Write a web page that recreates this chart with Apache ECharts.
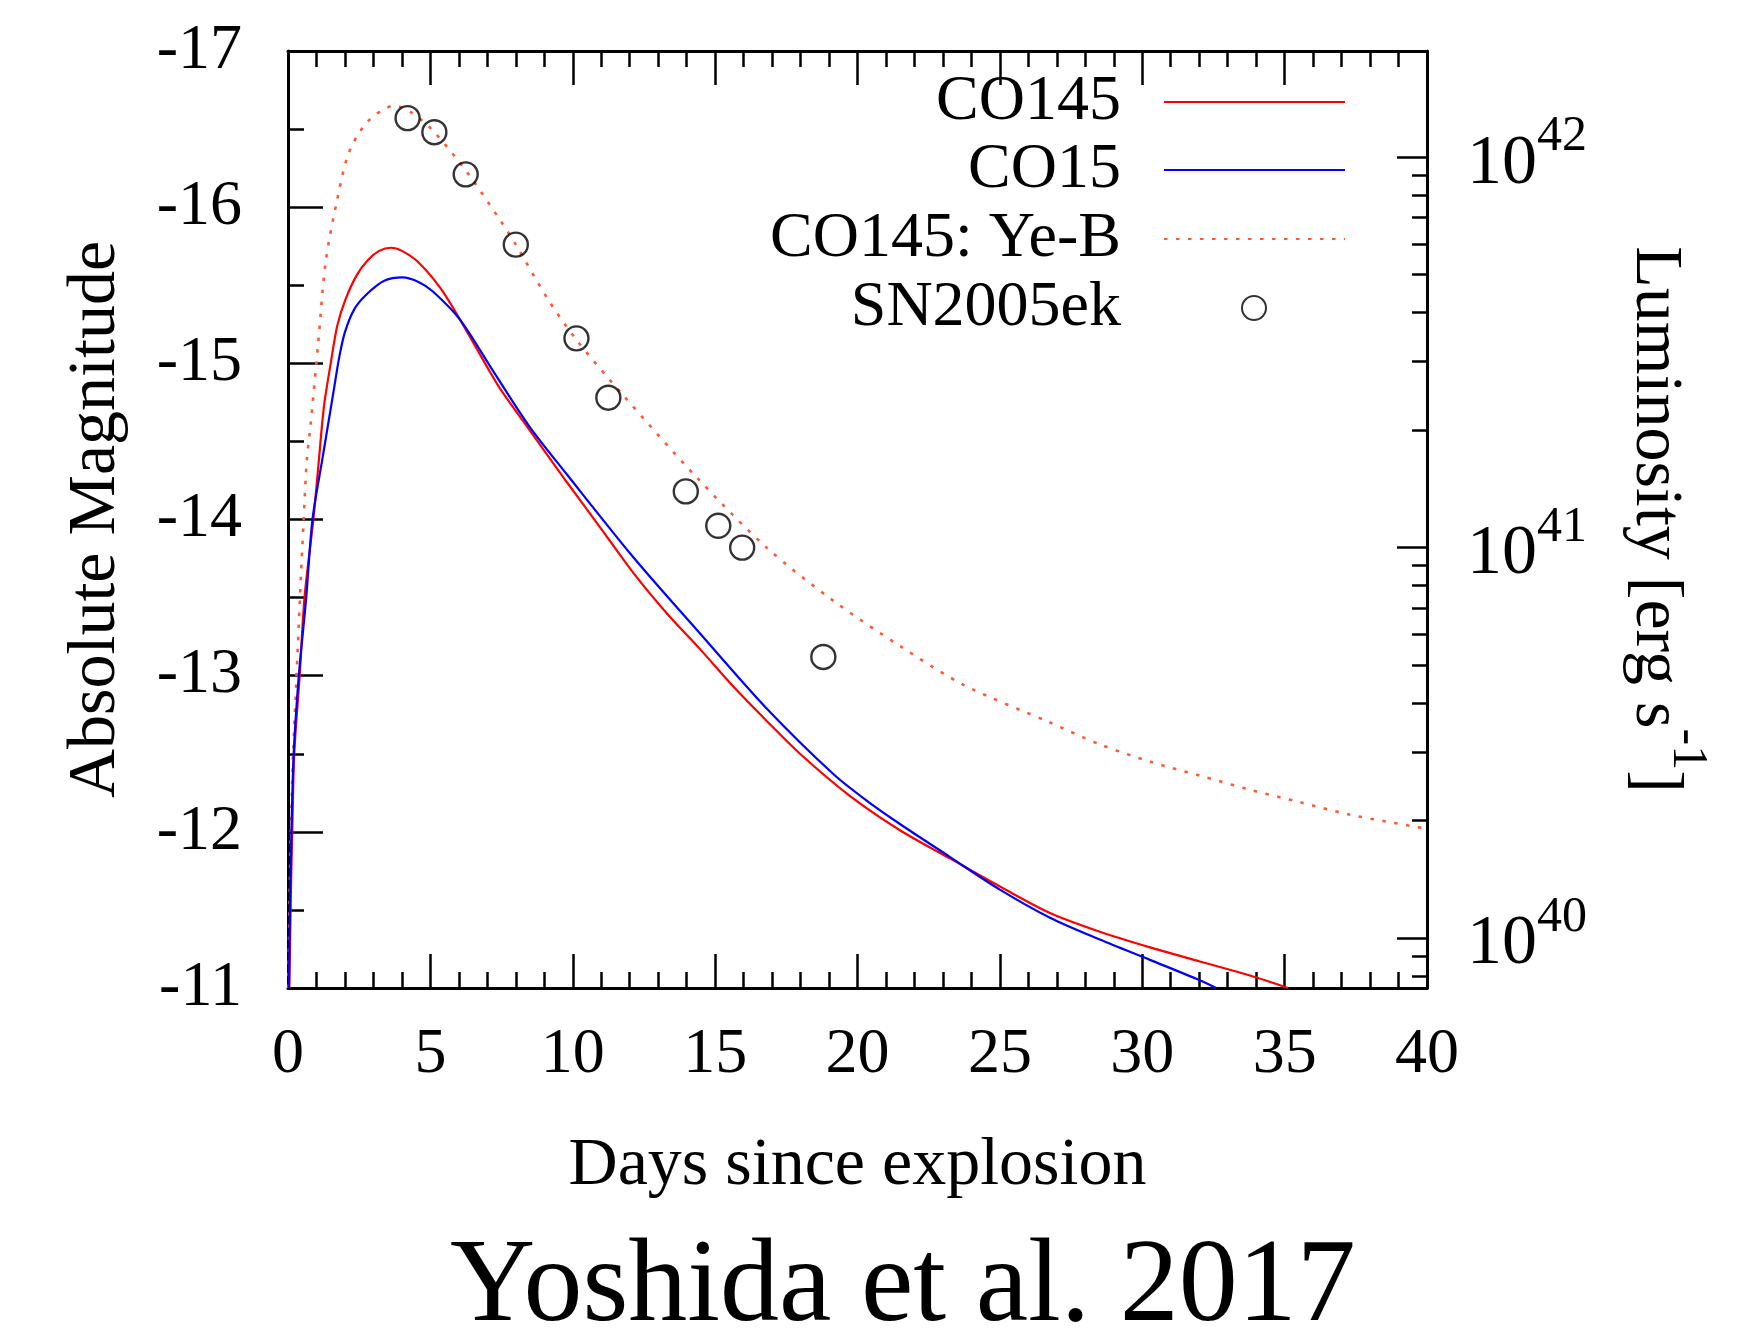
<!DOCTYPE html>
<html>
<head>
<meta charset="utf-8">
<script src="https://cdn.jsdelivr.net/npm/echarts@6/dist/echarts.min.js"></script>
<style>
html,body{margin:0;padding:0;background:#ffffff;}
#chart{width:1751px;height:1339px;}
</style>
</head>
<body>
<div id="chart"></div>
<script>
// ---- data ----
const co145Days = [0.05,0.1,0.15,0.22,0.41,0.58,0.89,1.06,1.26,1.5,1.73,2.0,2.4,2.8,3.2,3.62,4.0,4.56,5.36,6.04,7.11,7.44,8.61,9.79,10.96,12.12,13.3,14.47,15.64,16.81,17.98,19.73,21.49,23.24,25.0,26.76,28.51,30.27,32.02,33.78,35.12];
const co145Mag  = [-11.0,-11.6,-12.0,-12.5,-13.0,-13.5,-14.0,-14.33,-14.72,-15.0,-15.24,-15.40,-15.56,-15.66,-15.72,-15.74,-15.72,-15.65,-15.48,-15.28,-14.94,-14.84,-14.54,-14.24,-13.95,-13.66,-13.40,-13.17,-12.93,-12.71,-12.50,-12.23,-12.01,-11.83,-11.65,-11.48,-11.36,-11.26,-11.17,-11.08,-11.0];

const co15Days = [0.03,0.07,0.12,0.2,0.38,0.64,0.86,1.2,1.4,1.6,1.8,2.0,2.34,2.81,3.4,4.02,4.6,5.09,6.04,7.24,8.46,9.79,12.12,14.47,16.81,19.15,20.32,21.49,23.24,25.0,26.76,28.51,30.27,32.02,32.6];
const co15Mag  = [-11.0,-11.5,-12.0,-12.5,-13.0,-13.5,-14.0,-14.38,-14.6,-14.82,-15.04,-15.2,-15.35,-15.45,-15.53,-15.55,-15.52,-15.46,-15.28,-14.94,-14.6,-14.29,-13.76,-13.27,-12.79,-12.37,-12.20,-12.05,-11.84,-11.63,-11.45,-11.31,-11.18,-11.05,-11.0];

const yeBDays = [0.02,0.05,0.1,0.18,0.3,0.42,0.55,0.66,0.79,1.06,1.33,1.73,2.14,2.81,3.75,4.3,5.09,6.3,7.51,8.0,9.13,10.13,11.75,14.35,16.81,19.15,21.49,23.74,26.76,28.51,30.27,32.02,33.78,35.53,37.29,40.0];
const yeBMag  = [-11.0,-11.5,-12.0,-12.5,-13.0,-13.5,-14.0,-14.38,-14.6,-15.13,-15.66,-16.05,-16.35,-16.55,-16.65,-16.61,-16.49,-16.22,-15.9,-15.76,-15.41,-15.15,-14.8,-14.27,-13.82,-13.48,-13.19,-12.94,-12.70,-12.56,-12.45,-12.36,-12.27,-12.19,-12.11,-12.02];

const snDays = [4.2,5.14,6.24,8.0,10.13,11.25,13.97,15.11,15.95,18.8];
const snMag  = [-16.57,-16.48,-16.21,-15.76,-15.16,-14.78,-14.18,-13.96,-13.82,-13.12];

const seriesNames = ['CO145','CO15','CO145: Ye-B','SN2005ek'];
const xTitle = 'Days since explosion';
const yTitle = 'Absolute Magnitude';
const y2Title = 'Luminosity [erg s{sup|-1}]';
const footer = 'Yoshida et al. 2017';

// axis ranges / ticks
const dayMin = 0, dayMax = 40, dayStep = 5;
const magTop = -17, magBottom = -11, magStep = 1;
const lumExponents = [40, 41, 42];          // labelled decades of the luminosity axis
const lumMinorMultipliers = [2,3,4,5,6,7,8,9];
const magZeroPoint = 88.68;                 // M = magZeroPoint - 2.5 log10(L)

// ---- build ----
const FONT = 'Liberation Serif';
const zip = (a, b) => a.map((v, i) => [v, b[i]]);
const logLAt = m => (magZeroPoint - m) / 2.5;
const lumMin = logLAt(magBottom), lumMax = logLAt(magTop);
const lumMinor = [];
[39, 40, 41, 42].forEach(n => lumMinorMultipliers.forEach(k => {
  const v = n + Math.log10(k);
  if (v > lumMin && v < lumMax) lumMinor.push(v);
}));

const black = '#000000';
const axisLine = {show: true, onZero: false, lineStyle: {color: black, width: 3}};
const tickStyle = {color: black, width: 2.5};
const gridBox = {left: 288, right: 324, top: 51, bottom: 351, containLabel: false, outerBoundsMode: 'none'};

const chart = echarts.init(document.getElementById('chart'), null, {renderer: 'canvas'});

function legendFor(name, top, right, iw, ih, padRight, hideSymbol) {
  const l = {
    data: [name], orient: 'vertical', align: 'right', right: right, top: top,
    padding: 0, itemWidth: iw, itemHeight: ih, selectedMode: false,
    textStyle: {fontFamily: FONT, fontSize: 64, lineHeight: 64, color: black, padding: [0, padRight, 0, 0]}
  };
  if (hideSymbol) l.itemStyle = {opacity: 0};
  return l;
}

chart.setOption({
  animation: false,
  backgroundColor: '#ffffff',
  title: {
    text: footer, left: 445, top: 1225,
    textStyle: {fontFamily: FONT, fontSize: 118, fontWeight: 'normal', color: black}
  },
  grid: [Object.assign({}, gridBox), Object.assign({}, gridBox)],
  legend: [
    legendFor(seriesNames[0], 70, 405, 181, 14, 38, true),
    legendFor(seriesNames[1], 138, 405, 181, 14, 38, true),
    legendFor(seriesNames[2], 207, 405, 181, 14, 38, true),
    legendFor(seriesNames[3], 276, 484, 24, 24, 116, false)
  ],
  xAxis: [
    {
      gridIndex: 0, type: 'value', position: 'bottom', min: dayMin, max: dayMax, interval: dayStep,
      name: xTitle, nameLocation: 'middle', nameGap: 144,
      nameTextStyle: {fontFamily: FONT, fontSize: 68, color: black},
      axisLine: axisLine,
      axisTick: {show: true, inside: true, length: 34, lineStyle: tickStyle},
      minorTick: {show: true, splitNumber: 5, length: 16, lineStyle: tickStyle},
      axisLabel: {show: true, margin: 35, fontFamily: FONT, fontSize: 64, color: black},
      splitLine: {show: false}, minorSplitLine: {show: false}
    },
    {
      gridIndex: 0, type: 'value', position: 'top', min: dayMin, max: dayMax, interval: dayStep,
      axisLine: axisLine,
      axisTick: {show: true, inside: true, length: 34, lineStyle: tickStyle},
      minorTick: {show: true, splitNumber: 5, length: 16, lineStyle: tickStyle},
      axisLabel: {show: false},
      splitLine: {show: false}, minorSplitLine: {show: false}
    },
    {
      gridIndex: 1, type: 'value', position: 'bottom', min: dayMin, max: dayMax, interval: dayStep,
      show: false
    }
  ],
  yAxis: [
    {
      gridIndex: 0, type: 'value', position: 'left', inverse: true, min: magTop, max: magBottom, interval: magStep,
      name: yTitle, nameLocation: 'middle', nameGap: 158,
      nameTextStyle: {fontFamily: FONT, fontSize: 68, color: black},
      axisLine: axisLine,
      axisTick: {show: true, inside: true, length: 35, lineStyle: tickStyle},
      minorTick: {show: true, splitNumber: 2, length: 16, lineStyle: tickStyle},
      axisLabel: {show: true, margin: 46, fontFamily: FONT, fontSize: 64, color: black},
      splitLine: {show: false}, minorSplitLine: {show: false}
    },
    {
      gridIndex: 0, type: 'value', position: 'right', min: lumMin, max: lumMax,
      name: y2Title, nameLocation: 'middle', nameGap: 130, nameRotate: -90,
      nameTextStyle: {
        fontFamily: FONT, fontSize: 68, color: black,
        rich: {sup: {fontFamily: FONT, fontSize: 50, lineHeight: 50, color: black, padding: [0, 0, 64, 0]}}
      },
      axisLine: axisLine,
      axisTick: {show: true, inside: true, length: 30, lineStyle: tickStyle, customValues: lumExponents},
      axisLabel: {
        show: true, margin: 40, customValues: lumExponents, padding: [14, 0, 0, 0],
        formatter: v => '{b|10}{s|' + Math.round(v) + '}',
        rich: {
          b: {fontFamily: FONT, fontSize: 70, lineHeight: 70, color: black},
          s: {fontFamily: FONT, fontSize: 50, lineHeight: 50, color: black, padding: [0, 0, 54, 0]}
        }
      },
      splitLine: {show: false}
    },
    {
      gridIndex: 1, type: 'value', position: 'right', min: lumMin, max: lumMax,
      axisLine: {show: false, onZero: false},
      axisTick: {show: true, inside: true, length: 15, lineStyle: tickStyle, customValues: lumMinor},
      axisLabel: {show: false},
      splitLine: {show: false}
    }
  ],
  series: [
    {
      name: seriesNames[0], type: 'line', data: zip(co145Days, co145Mag),
      xAxisIndex: 0, yAxisIndex: 0, symbol: 'none', smooth: 0.3,
      lineStyle: {color: '#ff0000', width: 2.2}, itemStyle: {color: '#ff0000'}, z: 3
    },
    {
      name: seriesNames[1], type: 'line', data: zip(co15Days, co15Mag),
      xAxisIndex: 0, yAxisIndex: 0, symbol: 'none', smooth: 0.3,
      lineStyle: {color: '#0000ff', width: 2.2}, itemStyle: {color: '#0000ff'}, z: 3
    },
    {
      name: seriesNames[2], type: 'line', data: zip(yeBDays, yeBMag),
      xAxisIndex: 0, yAxisIndex: 0, symbol: 'none', smooth: 0.3,
      lineStyle: {color: '#ff5a36', width: 2.6, type: [3.5, 8.5]}, itemStyle: {color: '#ff5a36'}, z: 2
    },
    {
      name: seriesNames[3], type: 'scatter', data: zip(snDays, snMag),
      xAxisIndex: 0, yAxisIndex: 0, symbol: 'circle', symbolSize: 24,
      itemStyle: {color: 'rgba(0,0,0,0)', borderColor: black, borderWidth: 2.4}, z: 5
    }
  ]
});
</script>
</body>
</html>
